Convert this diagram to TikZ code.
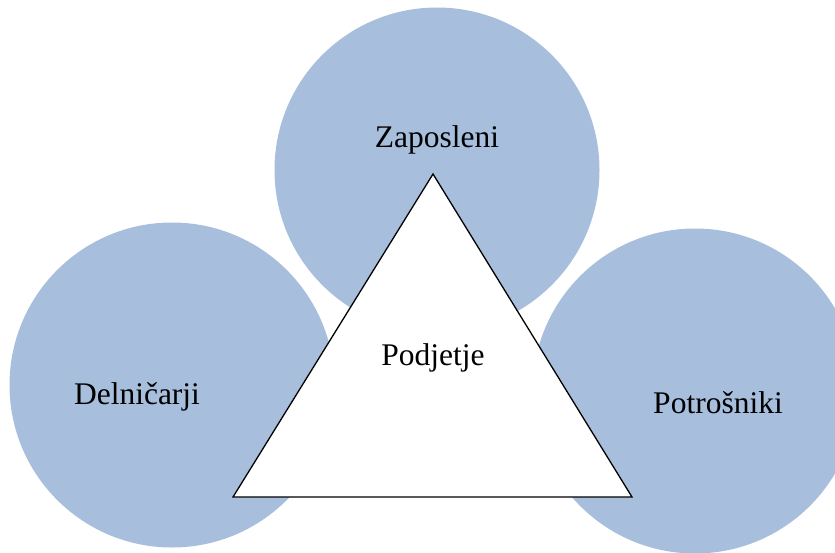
\documentclass[tikz,border=0pt]{standalone}
\usepackage{fontspec}
\setmainfont{Liberation Serif}
\definecolor{stakeblue}{RGB}{167,191,221}

\begin{document}
\begin{tikzpicture}[x=1pt, y=-1pt,
    stake/.style={fill=stakeblue},
    lbl/.style={anchor=base, inner sep=0pt, font=\fontsize{31.5}{36}\selectfont}]
    \useasboundingbox (0, 0) rectangle (835, 552);
    \clip (0, 0) rectangle (835, 552);
    \fill[stake] (437, 170) circle (162.5);
    \fill[stake] (172, 385) circle (162.5);
    \fill[stake] (695, 391) circle (162.5);
    \coordinate (apex) at (433, 174);
    \coordinate (bl) at (233, 497);
    \coordinate (br) at (632, 497);
    \draw[line width=1.3pt, fill=white, line join=miter] (apex) -- (br) -- (bl) -- cycle;
    \node[lbl] (zap) at (437, 147) {Zaposleni};
    \node[lbl] (deln) at (137, 404) {Delničarji};
    \node[lbl] (potr) at (718, 413) {Potrošniki};
    \node[lbl] (podj) at (433, 365) {Podjetje};
\end{tikzpicture}
\end{document}
